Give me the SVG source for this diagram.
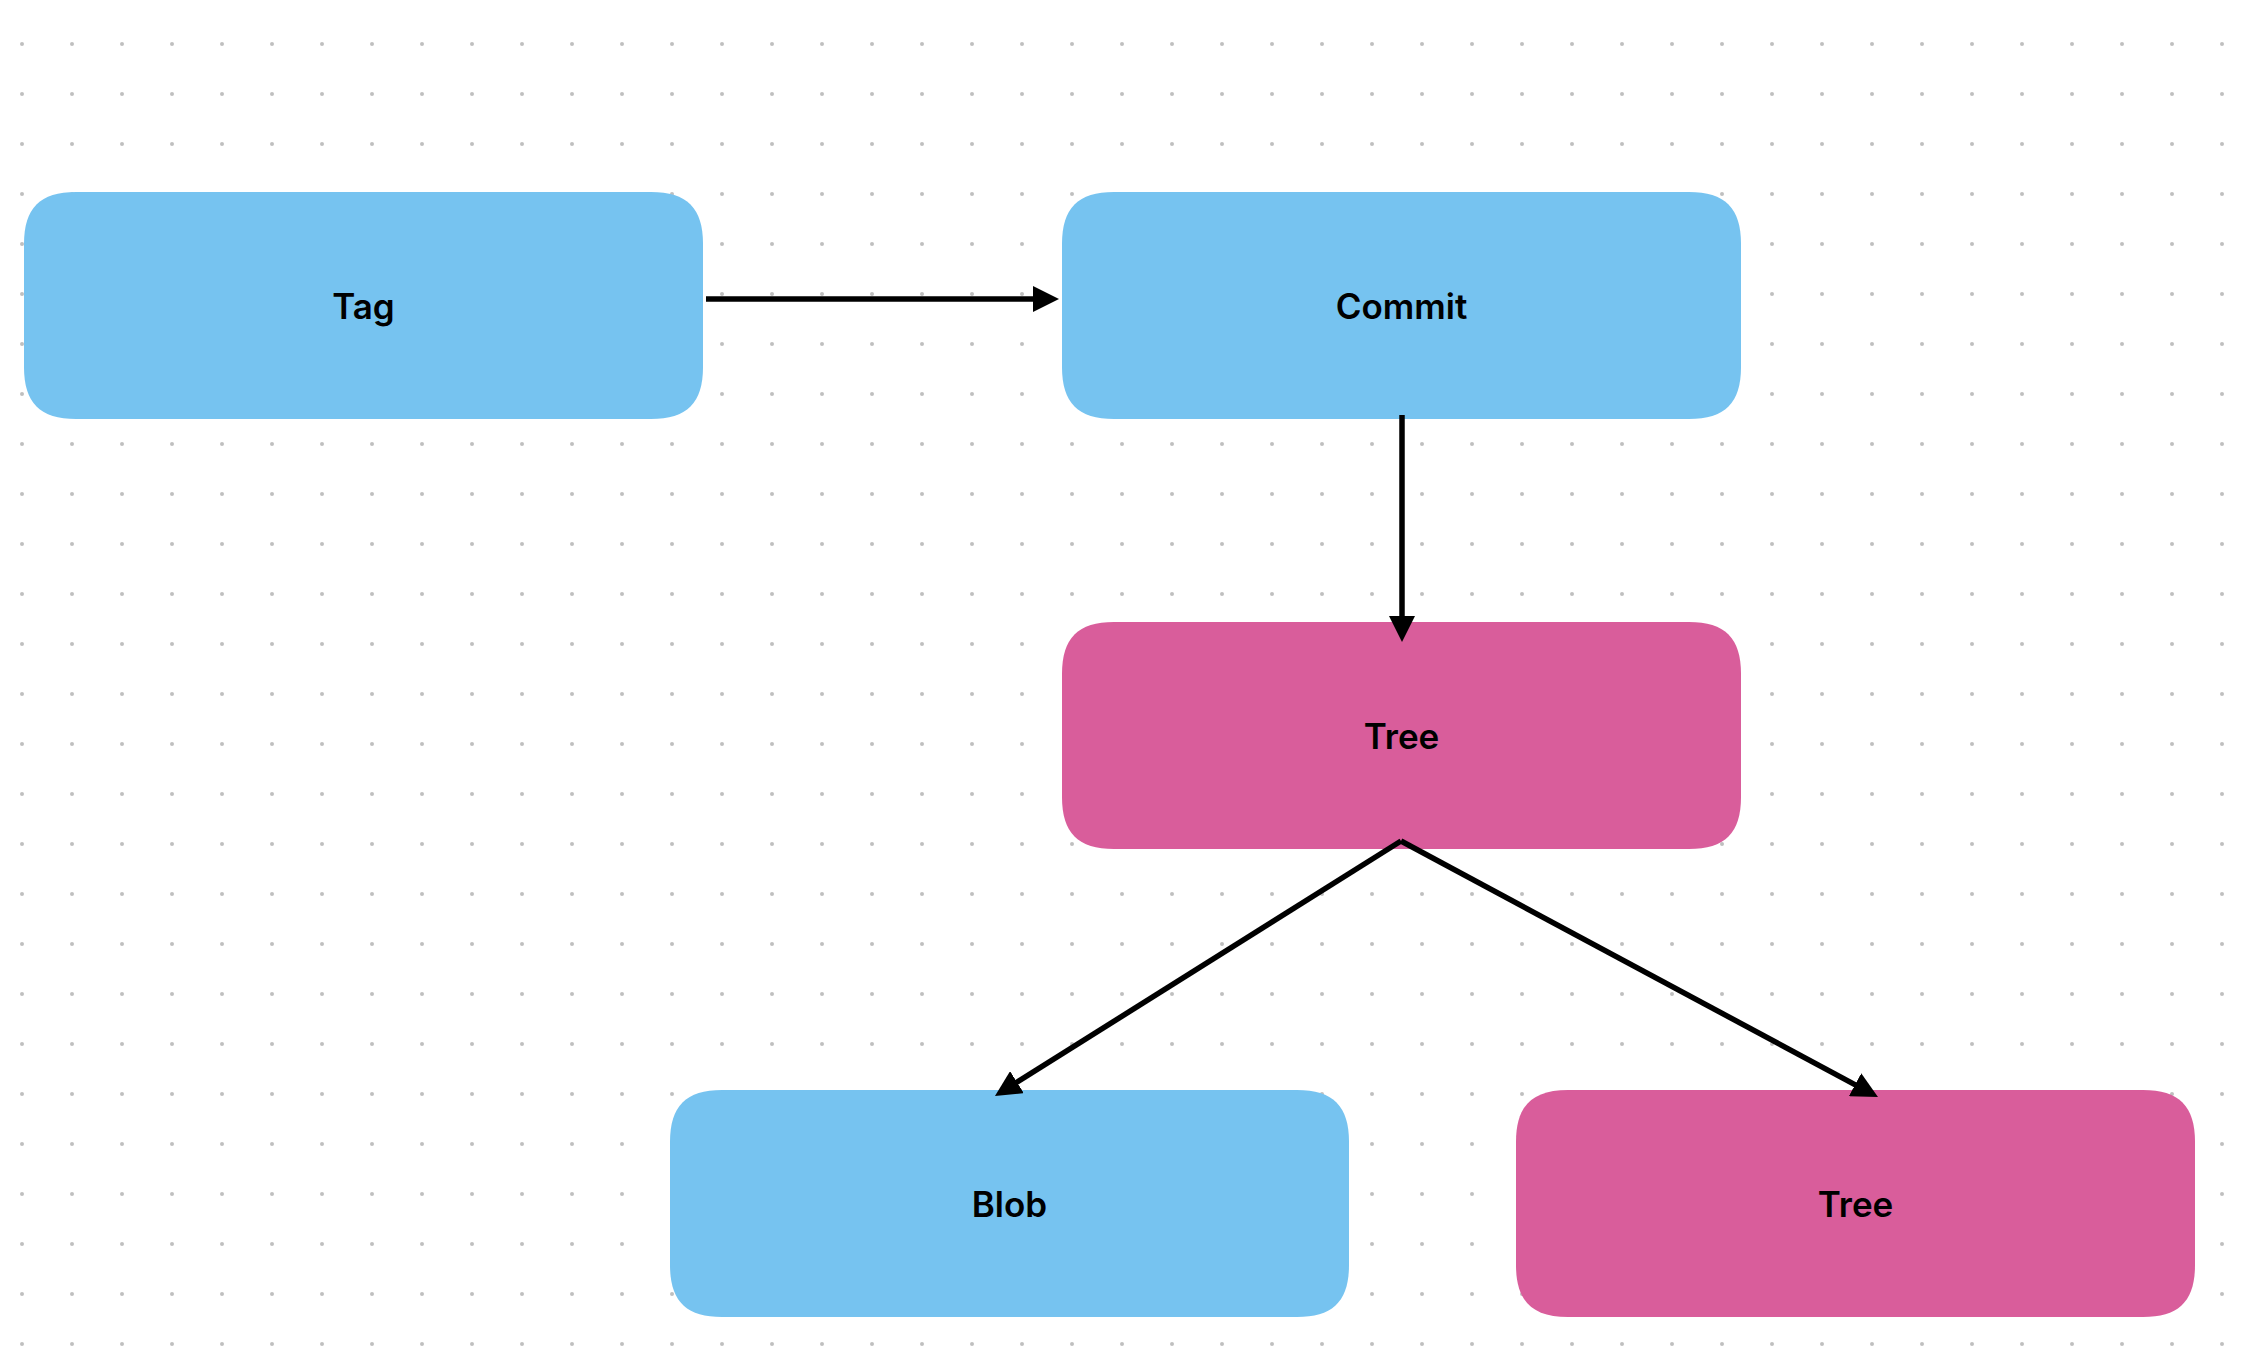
<svg xmlns="http://www.w3.org/2000/svg" xmlns:xlink="http://www.w3.org/1999/xlink" width="2264" height="1368" viewBox="0 0 2264 1368">
  <style>
    .blue { fill: #76C3F0; }
    .pink { fill: #D95D9B; }
    .label { font-family: Inter, "Noto Sans", "Liberation Sans", sans-serif; font-weight: 600; font-size: 35px; fill: #000000; text-anchor: middle; }
    .conn { stroke: #000000; stroke-width: 5.5; fill: none; marker-end: url(#arrow); }
  </style>
  <defs>
    <pattern id="dots" x="0" y="0" width="50" height="50" patternUnits="userSpaceOnUse">
      <circle cx="22" cy="44" r="2" fill="#BFBFBF"/>
    </pattern>
    <path id="card" d="M52,0 H627 C663,0 679,16 679,52 V175 C679,211 663,227 627,227 H52 C16,227 0,211 0,175 V52 C0,16 16,0 52,0 Z"/>
    <marker id="arrow" viewBox="0 0 26 26" refX="4" refY="13" markerWidth="26" markerHeight="26" markerUnits="userSpaceOnUse" orient="auto">
      <path d="M0,0 L26,13 L0,26 Z" fill="#000000"/>
    </marker>
  </defs>
  <rect x="0" y="0" width="2264" height="1368" fill="#FFFFFF"/>
  <rect x="0" y="0" width="2264" height="1368" fill="url(#dots)"/>

  <g id="node-tag">
    <use href="#card" xlink:href="#card" x="24" y="192" class="blue"/>
    <text class="label" x="363.5" y="318.5">Tag</text>
  </g>
  <g id="node-commit">
    <use href="#card" xlink:href="#card" x="1062" y="192" class="blue"/>
    <text class="label" x="1401.5" y="318.5">Commit</text>
  </g>
  <g id="node-tree">
    <use href="#card" xlink:href="#card" x="1062" y="622" class="pink"/>
    <text class="label" x="1401.5" y="748.5">Tree</text>
  </g>
  <g id="node-blob">
    <use href="#card" xlink:href="#card" x="670" y="1090" class="blue"/>
    <text class="label" x="1009.5" y="1216.5">Blob</text>
  </g>
  <g id="node-tree2">
    <use href="#card" xlink:href="#card" x="1516" y="1090" class="pink"/>
    <text class="label" x="1855.5" y="1216.5">Tree</text>
  </g>

  <g id="connectors">
    <line class="conn" x1="706" y1="299" x2="1037" y2="299"/>
    <line class="conn" x1="1402" y1="415" x2="1402" y2="620"/>
    <line class="conn" x1="1401" y1="841" x2="1013.6" y2="1084.3"/>
    <line class="conn" x1="1401" y1="841" x2="1858.6" y2="1086.6"/>
  </g>
</svg>
